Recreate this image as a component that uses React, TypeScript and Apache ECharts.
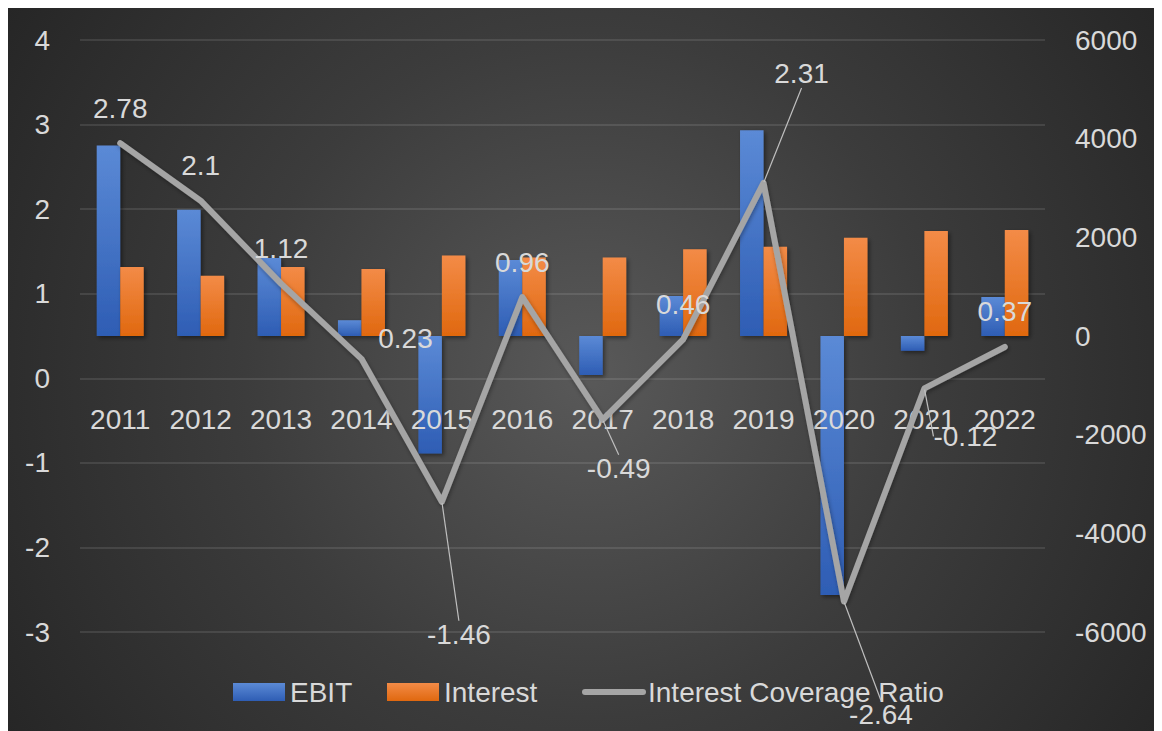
import React, { useEffect, useRef } from "react";
import * as echarts from "echarts";

const years = ["2011", "2012", "2013", "2014", "2015", "2016", "2017", "2018", "2019", "2020", "2021", "2022"];
const ebit = [3860, 2560, 1580, 320, -2380, 1540, -790, 810, 4170, -5250, -300, 790];
const interest = [1400, 1220, 1400, 1360, 1630, 1590, 1590, 1760, 1810, 1990, 2130, 2150];
const coverageRatio = [2.78, 2.1, 1.12, 0.23, -1.46, 0.96, -0.49, 0.46, 2.31, -2.64, -0.12, 0.37];

// layout: pixel shifts of some ratio labels from their default "above" spot, and whether a leader line is drawn
const labelShift: Record<number, { dx: number; dy: number; line: boolean }> = {
  3: { dx: 44, dy: 15, line: false },
  4: { dx: 17, dy: 168, line: true },
  6: { dx: 16, dy: 84, line: true },
  8: { dx: 38, dy: -74, line: true },
  9: { dx: 37, dy: 148, line: true },
  10: { dx: 41, dy: 83, line: true },
};

const FONT = "Liberation Sans";
const TXT = "#d9d9d9";

export default function App() {
  const ref = useRef<HTMLDivElement>(null);
  useEffect(() => {
    document.documentElement.style.overflow = "hidden";
    document.body.style.overflow = "hidden";
    const chart = echarts.init(ref.current!, null, { renderer: "svg" });
    const textStyle = { color: TXT, fontSize: 28, fontFamily: FONT };
    const barShadow = { shadowColor: "rgba(0,0,0,0.45)", shadowBlur: 4, shadowOffsetX: 2, shadowOffsetY: 2 };
    const legendBase = { top: 670, padding: 0, itemHeight: 18, textStyle };
    chart.setOption({
      animation: false,
      backgroundColor: "transparent",
      textStyle: { fontFamily: FONT },
      grid: { left: 72, top: 32, width: 965, height: 592, containLabel: false },
      legend: [
        { ...legendBase, data: ["EBIT"], left: 225, itemWidth: 52, icon: "rect" },
        { ...legendBase, data: ["Interest"], left: 379, itemWidth: 52, icon: "rect" },
        {
          ...legendBase,
          data: ["Interest Coverage Ratio"], left: 574, itemWidth: 58,
          itemStyle: { color: "rgba(0,0,0,0)", borderWidth: 0 },
          lineStyle: { width: 6, cap: "round", color: "#a5a5a5" },
        },
      ],
      xAxis: {
        type: "category",
        data: years,
        position: "bottom",
        z: 3,
        axisLine: { show: false, onZero: false },
        axisTick: { show: false },
        axisLabel: { ...textStyle, margin: -227, interval: 0 },
        splitLine: { show: false },
      },
      yAxis: [
        {
          type: "value", min: -3, max: 4, interval: 1, position: "left",
          axisLine: { show: false }, axisTick: { show: false },
          axisLabel: { ...textStyle, margin: 30 },
          splitLine: { show: true, lineStyle: { color: "rgba(255,255,255,0.1)", width: 2 } },
        },
        {
          type: "value", min: -6000, max: 6000, interval: 2000, position: "right",
          axisLine: { show: false }, axisTick: { show: false },
          axisLabel: { ...textStyle, margin: 30, formatter: (v: number) => String(v) },
          splitLine: { show: false },
        },
      ],
      series: [
        {
          name: "EBIT", type: "bar", yAxisIndex: 1, data: ebit,
          barWidth: 23.5, barGap: "0%",
          itemStyle: {
            color: new echarts.graphic.LinearGradient(0, 0, 0, 1, [
              { offset: 0, color: "#5b8ad6" },
              { offset: 1, color: "#2e5db4" },
            ]),
            ...barShadow,
          },
        },
        {
          name: "Interest", type: "bar", yAxisIndex: 1, data: interest,
          barWidth: 23.5, barGap: "0%",
          itemStyle: {
            color: new echarts.graphic.LinearGradient(0, 0, 0, 1, [
              { offset: 0, color: "#f38b47" },
              { offset: 1, color: "#e0680f" },
            ]),
            ...barShadow,
          },
        },
        {
          name: "Interest Coverage Ratio", type: "line", yAxisIndex: 0, z: 5,
          data: coverageRatio.map((v, i) => ({
            value: v,
            labelLine: { show: !!(labelShift[i] && labelShift[i].line) },
          })),
          symbol: "circle", symbolSize: 2, showSymbol: true,
          itemStyle: { color: "#a5a5a5" },
          lineStyle: {
            color: "#a5a5a5", width: 6, cap: "round", join: "round",
            shadowColor: "rgba(0,0,0,0.35)", shadowBlur: 4, shadowOffsetX: 1, shadowOffsetY: 2,
          },
          label: { show: true, position: "top", distance: 20, ...textStyle },
          labelLine: { show: false, length2: 0, lineStyle: { color: "#bfbfbf", width: 1.2 } },
          labelLayout: (params: any) => {
            const s = labelShift[params.dataIndex];
            return s ? { dx: s.dx, dy: s.dy } : {};
          },
        },
      ],
    });
    return () => chart.dispose();
  }, []);
  return (
    <div
      ref={ref}
      style={{
        width: 1162,
        height: 731,
        background: "radial-gradient(circle farthest-corner at 50% 50%, #595959 0%, #3c3c3c 50%, #262626 100%)",
      }}
    />
  );
}
